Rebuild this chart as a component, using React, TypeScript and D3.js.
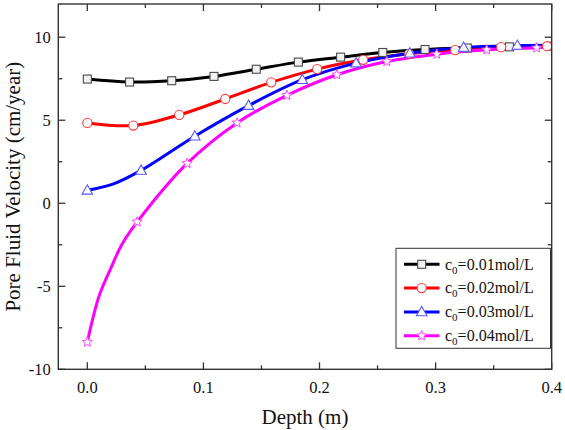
import React from 'react';
import * as d3 from 'd3';

// ---------- data ----------
const xTickValues = [0, 0.1, 0.2, 0.3, 0.4];
const xMinorValues = [0.05, 0.15, 0.25, 0.35];
const yTickValues = [-10, -5, 0, 5, 10];
const yMinorValues = [-7.5, -2.5, 2.5, 7.5];

const legendLabels = ['0.01mol/L', '0.02mol/L', '0.03mol/L', '0.04mol/L'];

const depthA = [0, 0.0364, 0.0727, 0.1091, 0.1455, 0.1818, 0.2182, 0.2545, 0.2909, 0.3273, 0.3636, 0.4];
const velA = [7.48, 7.3, 7.38, 7.64, 8.07, 8.5, 8.8, 9.08, 9.26, 9.35, 9.42, 9.46];

const depthB = [0, 0.0396, 0.0792, 0.1188, 0.1584, 0.198, 0.2376, 0.2772, 0.3168, 0.3564, 0.396];
const velB = [4.84, 4.68, 5.32, 6.28, 7.28, 8.08, 8.64, 9.0, 9.22, 9.4, 9.46];
const depthBExtra = [0.4];
const velBExtra = [9.47];

const depthC = [0, 0.0463, 0.0926, 0.1389, 0.1852, 0.2315, 0.2778, 0.3241, 0.3704];
const velC = [0.78, 1.98, 4.04, 5.88, 7.44, 8.44, 9.04, 9.38, 9.5];
const depthCExtra = [0.022, 0.4];
const velCExtra = [1.15, 9.52];

const depthD = [0, 0.043, 0.086, 0.129, 0.172, 0.215, 0.258, 0.301, 0.344, 0.387];
const velD = [-8.36, -1.12, 2.4, 4.84, 6.5, 7.74, 8.54, 8.98, 9.24, 9.36];
const depthDExtra = [0.01, 0.02, 0.03, 0.4];
const velDExtra = [-5.62, -3.95, -2.45, 9.42];

// ---------- layout ----------
const W = 565;
const H = 430;
const L = 58.3, R = 551.7, T = 4, B = 369.3;
const FONT = "'Liberation Serif', 'Times New Roman', Times, serif";

const x = d3.scaleLinear().domain([-0.025, 0.4]).range([L, R]);
const y = d3.scaleLinear().domain([-10, 12]).range([B, T]);

type Sym = 'square' | 'circle' | 'triangle' | 'star';

const series = [
  { depth: depthA, vel: velA, exD: [] as number[], exV: [] as number[], line: '#000000', stroke: '#4a4a4a', fill: '#f2f2f2', sym: 'square' as Sym },
  { depth: depthB, vel: velB, exD: depthBExtra, exV: velBExtra, line: '#ff0000', stroke: '#ff3a3a', fill: '#ffffff', sym: 'circle' as Sym },
  { depth: depthC, vel: velC, exD: depthCExtra, exV: velCExtra, line: '#0000ff', stroke: '#5a5aff', fill: '#ffffff', sym: 'triangle' as Sym },
  { depth: depthD, vel: velD, exD: depthDExtra, exV: velDExtra, line: '#ff00ff', stroke: '#ff44ff', fill: '#ffffff', sym: 'star' as Sym },
];

const lineGen = d3
  .line<[number, number]>()
  .x((d) => x(d[0]))
  .y((d) => y(d[1]))
  .curve(d3.curveCatmullRom.alpha(0.5));

function starPath(cx: number, cy: number, ro: number, ri: number) {
  const pts: string[] = [];
  for (let i = 0; i < 10; i++) {
    const r = i % 2 === 0 ? ro : ri;
    const a = -Math.PI / 2 + (i * Math.PI) / 5;
    pts.push(`${cx + r * Math.cos(a)},${cy + r * Math.sin(a)}`);
  }
  return `M${pts.join('L')}Z`;
}

function Marker({ sym, cx, cy, stroke, fill }: { sym: Sym; cx: number; cy: number; stroke: string; fill: string }) {
  if (sym === 'square')
    return <rect x={cx - 4} y={cy - 4} width={8} height={8} fill={fill} stroke={stroke} strokeWidth={1.1} />;
  if (sym === 'circle') return <circle cx={cx} cy={cy} r={4.6} fill={fill} stroke={stroke} strokeWidth={1.1} />;
  if (sym === 'triangle')
    return (
      <path
        d={`M${cx},${cy - 5.5}L${cx + 5.3},${cy + 3.8}L${cx - 5.3},${cy + 3.8}Z`}
        fill={fill}
        stroke={stroke}
        strokeWidth={1.1}
      />
    );
  return <path d={starPath(cx, cy, 5.2, 2.3)} fill={fill} stroke={stroke} strokeWidth={1} />;
}

export default function App() {
  const axisColor = '#333';
  const major = 7;
  const minor = 4;

  return (
    <svg
      width={W}
      height={H}
      style={{ position: 'absolute', left: 0, top: 0, background: '#fff', fontFamily: FONT }}
    >
      <rect x={0} y={0} width={W} height={H} fill="#fff" />
      <defs>
        <clipPath id="plotClip">
          <rect x={L} y={T} width={R - L} height={B - T} />
        </clipPath>
      </defs>

      {/* lines */}
      <g clipPath="url(#plotClip)">
        {series.map((s, i) => {
          const pts: [number, number][] = s.depth.map((d, j) => [d, s.vel[j]] as [number, number]);
          s.exD.forEach((d, j) => pts.push([d, s.exV[j]]));
          pts.sort((a, b) => a[0] - b[0]);
          return (
            <path key={i} d={lineGen(pts) || ''} fill="none" stroke={s.line} strokeWidth={3} strokeLinejoin="round" />
          );
        })}
        {series.map((s, i) => (
          <g key={i}>
            {s.depth.map((d, j) => (
              <Marker key={j} sym={s.sym} cx={x(d)} cy={y(s.vel[j])} stroke={s.stroke} fill={s.fill} />
            ))}
          </g>
        ))}
      </g>

      {/* frame */}
      <rect x={L} y={T} width={R - L} height={B - T} fill="none" stroke={axisColor} strokeWidth={1.4} />

      {/* x ticks */}
      {xTickValues.map((v) => (
        <g key={'xt' + v}>
          <line x1={x(v)} x2={x(v)} y1={B} y2={B - major} stroke={axisColor} strokeWidth={1.3} />
          <line x1={x(v)} x2={x(v)} y1={T} y2={T + major} stroke={axisColor} strokeWidth={1.3} />
          <text x={x(v)} y={393} textAnchor="middle" fontSize={16.5} fill="#111" style={{ fontFamily: FONT }}>
            {v.toFixed(1)}
          </text>
        </g>
      ))}
      {xMinorValues.map((v) => (
        <g key={'xm' + v}>
          <line x1={x(v)} x2={x(v)} y1={B} y2={B - minor} stroke={axisColor} strokeWidth={1.3} />
          <line x1={x(v)} x2={x(v)} y1={T} y2={T + minor} stroke={axisColor} strokeWidth={1.3} />
        </g>
      ))}

      {/* y ticks */}
      {yTickValues.map((v) => (
        <g key={'yt' + v}>
          <line x1={L} x2={L + major} y1={y(v)} y2={y(v)} stroke={axisColor} strokeWidth={1.3} />
          <line x1={R} x2={R - major} y1={y(v)} y2={y(v)} stroke={axisColor} strokeWidth={1.3} />
          <text x={50.7} y={y(v)} dy="0.35em" textAnchor="end" fontSize={16.5} fill="#111" style={{ fontFamily: FONT }}>
            {v < 0 ? '-' + Math.abs(v) : String(v)}
          </text>
        </g>
      ))}
      {yMinorValues.map((v) => (
        <g key={'ym' + v}>
          <line x1={L} x2={L + minor} y1={y(v)} y2={y(v)} stroke={axisColor} strokeWidth={1.3} />
          <line x1={R} x2={R - minor} y1={y(v)} y2={y(v)} stroke={axisColor} strokeWidth={1.3} />
        </g>
      ))}

      {/* axis titles */}
      <text x={(L + R) / 2} y={424} textAnchor="middle" fontSize={21} fill="#111" style={{ fontFamily: FONT }}>
        Depth (m)
      </text>
      <text
        transform={`translate(19.5, ${(T + B) / 2}) rotate(-90)`}
        textAnchor="middle"
        fontSize={21}
        fill="#111"
        style={{ fontFamily: FONT }}
      >
        Pore Fluid Velocity (cm/year)
      </text>

      {/* legend */}
      <g>
        <rect x={396} y={248.3} width={154.5} height={100} fill="#fff" stroke={axisColor} strokeWidth={1} />
        {series.map((s, i) => {
          const ry = 264.3 + i * 23.8;
          return (
            <g key={i}>
              <line x1={404} x2={439.5} y1={ry} y2={ry} stroke={s.line} strokeWidth={3} />
              <Marker sym={s.sym} cx={421.7} cy={ry} stroke={s.stroke} fill={s.fill} />
              <text x={445} y={ry} dy="0.33em" fontSize={16} fill="#111" style={{ fontFamily: FONT }}>
                c
                <tspan fontSize={11} dy={4}>
                  0
                </tspan>
                <tspan dy={-4}>={legendLabels[i]}</tspan>
              </text>
            </g>
          );
        })}
      </g>
    </svg>
  );
}
